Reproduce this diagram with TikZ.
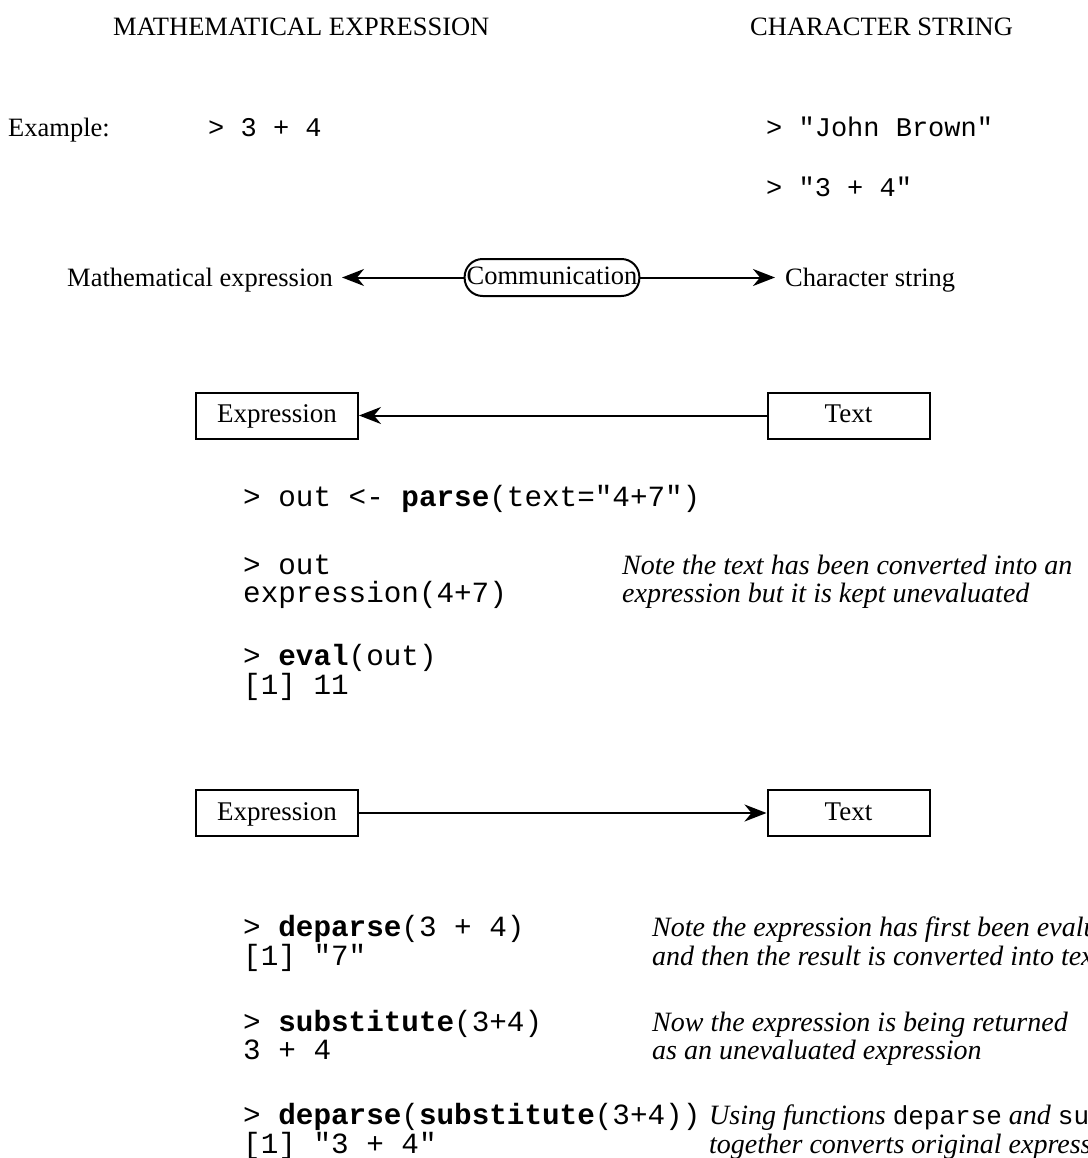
\documentclass[tikz,border=0pt]{standalone}
\usepackage{fontspec}
\setmainfont{Liberation Serif}
\setmonofont{Liberation Mono}
\usetikzlibrary{arrows.meta}
\begin{document}
\begin{tikzpicture}[x=1pt,y=-1pt,
  lbl/.style={font=\fontsize{26.5}{30}\selectfont, inner sep=0pt, anchor=base west},
  excode/.style={font=\ttfamily\fontsize{27}{30}\selectfont, inner sep=0pt, anchor=base west},
  code/.style={font=\ttfamily\fontsize{29.3}{30}\selectfont, inner sep=0pt, anchor=base west},
  note/.style={font=\itshape\fontsize{28}{30}\selectfont, inner sep=0pt, anchor=base west},
  box/.style={draw, line width=2pt, minimum width=162pt, minimum height=46pt, inner sep=0pt, text height=19pt, text depth=5pt, font=\fontsize{27}{30}\selectfont},
  pill/.style={draw, line width=2pt, rounded corners=18pt, minimum width=172pt, minimum height=37pt, inner xsep=2pt, inner ysep=0pt, text height=18pt, text depth=5pt, font=\fontsize{26.5}{30}\selectfont},
  arr/.style={line width=2pt, -{Stealth[length=22pt,width=17pt,inset=7pt]}}]
\useasboundingbox (0,0) rectangle (1087,1158);
\clip (0,0) rectangle (1087,1158);

% headings
\node[lbl] (hmath) at (113,36) {MATHEMATICAL EXPRESSION};
\node[lbl] (hchar) at (750,36) {CHARACTER STRING};

% examples
\node[lbl] (example) at (8,137) {Example:};
\node[excode] (ex1) at (208,137) {> 3 + 4};
\node[excode] (ex2) at (766,137) {> "John Brown"};
\node[excode] (ex3) at (766,197) {> "3 + 4"};

% communication row
\node[lbl, inner xsep=9pt] (mathexpr) at (58,286) {Mathematical expression};
\node[pill] (comm) at (552,277.5) {Communication};
\node[lbl, inner xsep=10pt] (charstr) at (775,286) {Character string};
\draw[arr] (comm.west) -- (comm.west -| mathexpr.east);
\draw[arr] (comm.east) -- (comm.east -| charstr.west);

% parse section
\node[box] (expr1) at (277,415.5) {Expression};
\node[box] (text1) at (848.5,415.5) {Text};
\draw[arr] (text1) -- (expr1);

\node[code] (c1) at (243,506) {> out <- \textbf{parse}(text="4+7")};
\node[code] (c2) at (243,574) {> out};
\node[code] (c3) at (243,602) {expression(4+7)};
\node[code] (c4) at (243,665) {> \textbf{eval}(out)};
\node[code] (c5) at (243,694) {[1] 11};
\node[note] (n1) at (622,574) {Note the text has been converted into an};
\node[note] (n2) at (622,602) {expression but it is kept unevaluated};

% deparse section
\node[box] (expr2) at (277,813) {Expression};
\node[box] (text2) at (848.5,813) {Text};
\draw[arr] (expr2) -- (text2);

\node[code] (d1) at (243,936) {> \textbf{deparse}(3 + 4)};
\node[code] (d2) at (243,965) {[1] "7"};
\node[code] (d3) at (243,1031) {> \textbf{substitute}(3+4)};
\node[code] (d4) at (243,1059) {3 + 4};
\node[code] (d5) at (243,1124) {> \textbf{deparse}(\textbf{substitute}(3+4))};
\node[code] (d6) at (243,1153) {[1] "3 + 4"};

\node[note] (m1) at (652,936) {Note the expression has first been evaluated};
\node[note] (m2) at (652,965) {and then the result is converted into text};
\node[note] (m3) at (652,1031) {Now the expression is being returned};
\node[note] (m4) at (652,1059) {as an unevaluated expression};
\node[note] (m5) at (709,1124) {Using functions {\upshape\ttfamily\fontsize{26}{30}\selectfont deparse} and {\upshape\ttfamily\fontsize{26}{30}\selectfont substitute}};
\node[note] (m6) at (709,1153) {together converts original expression into text};
\end{tikzpicture}
\end{document}
